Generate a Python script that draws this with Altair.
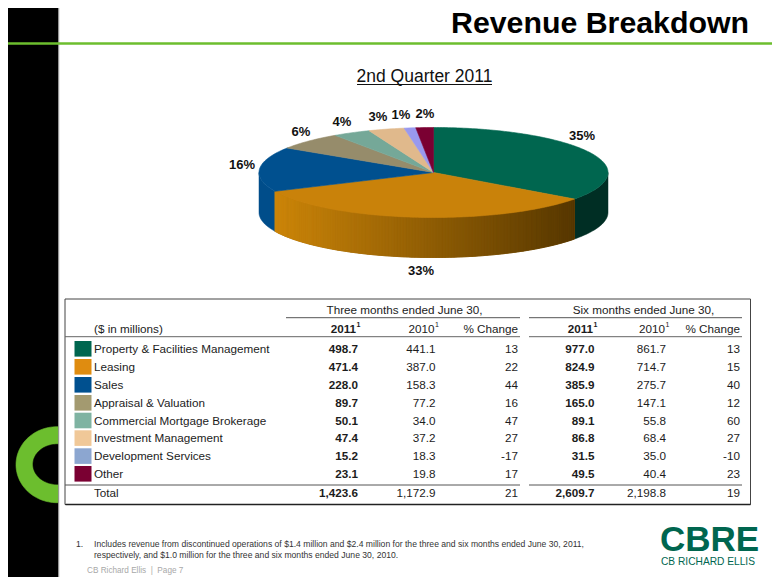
import math
import altair as alt
import pandas as pd

# ---------- values ----------
categories = ["Property & Facilities Management", "Leasing", "Sales", "Appraisal & Valuation",
              "Commercial Mortgage Brokerage", "Investment Management", "Development Services", "Other"]
q_2011 = [498.7, 471.4, 228.0, 89.7, 50.1, 47.4, 15.2, 23.1]
q_2010 = [441.1, 387.0, 158.3, 77.2, 34.0, 37.2, 18.3, 19.8]
q_chg = [13, 22, 44, 16, 47, 27, -17, 17]
h_2011 = [977.0, 824.9, 385.9, 165.0, 89.1, 86.8, 31.5, 49.5]
h_2010 = [861.7, 714.7, 275.7, 147.1, 55.8, 68.4, 35.0, 40.4]
h_chg = [13, 15, 40, 12, 60, 27, -10, 23]
total_row = ["1,423.6", "1,172.9", "21", "2,609.7", "2,198.8", "19"]
pie_labels = ["35%", "33%", "16%", "6%", "4%", "3%", "1%", "2%"]
pie_colors = ["#00664F", "#C9820A", "#00508F", "#968C6B", "#75A898", "#E0B98C", "#9999EE", "#7A0032"]
swatch_colors = ["#00664F", "#DF8C10", "#00508F", "#A39A70", "#7FB3A2", "#F0C898", "#8CA6D0", "#7A0032"]

# ---------- layout (reference pixel space) ----------
FONT = "Liberation Sans"
TXT = "#1c1c1c"
GREEN = "#6CBE2E"
CX, CY, RX, RY, DEPTH = 433.5, 172.5, 174.5, 45.0, 40.0
col_x = [358, 435.5, 518, 594.5, 666, 740]
row_y = [349, 367, 385, 403, 420.7, 438.3, 456.3, 474]
pie_label_xy = [(582, 136), (421, 271), (242, 165), (301, 132), (342, 122), (378, 117), (401, 115), (425, 114)]

RIGHT, BOTTOM = 772, 577
xs = alt.Scale(domain=[8, RIGHT], range=[0, RIGHT - 8], nice=False, zero=False)
ys = alt.Scale(domain=[8, BOTTOM], range=[0, BOTTOM - 8], nice=False, zero=False)
X = alt.X("x:Q", scale=xs, axis=None)
Y = alt.Y("y:Q", scale=ys, axis=None)


def text(rows, **kw):
    df = pd.DataFrame(rows, columns=["x", "y", "t"])
    opts = dict(font=FONT, baseline="middle", align="left", color=TXT)
    opts.update(kw)
    return alt.Chart(df).mark_text(**opts).encode(x=X, y=Y, text="t:N")


def rules(rows, color="#555555", width=1.0):
    df = pd.DataFrame(rows, columns=["x", "x2", "y", "y2"])
    return alt.Chart(df).mark_rule(color=color, strokeWidth=width).encode(x=X, x2="x2:Q", y=Y, y2="y2:Q")


def rect(rows, **kw):
    df = pd.DataFrame(rows, columns=["x", "x2", "y", "y2"])
    return alt.Chart(df).mark_rect(**kw).encode(x=X, x2="x2:Q", y=Y, y2="y2:Q")


def polygons(polys, stroke_width=0.6):
    rows = []
    for pid, (color, pts) in enumerate(polys):
        for i, (px, py) in enumerate(pts):
            rows.append(dict(pid=pid, i=i, x=px, y=py, c=color))
    return alt.Chart(pd.DataFrame(rows)).mark_line(strokeWidth=stroke_width, interpolate="linear").encode(
        x=X, y=Y, order="i:Q", detail="pid:N",
        fill=alt.Fill("c:N", scale=None), color=alt.Color("c:N", scale=None))


def rim(t, dy=0.0):
    return CX + RX * math.sin(t), CY - RY * math.cos(t) + dy


def mix(a, b, f):
    ca = [int(a[i:i + 2], 16) for i in (1, 3, 5)]
    cb = [int(b[i:i + 2], 16) for i in (1, 3, 5)]
    return "#" + "".join(f"{round(p + (q - p) * f):02x}" for p, q in zip(ca, cb))


total = sum(q_2011)
edges = [0.0]
for v in q_2011:
    edges.append(edges[-1] + v / total * 2 * math.pi)

# pie walls: only the front half (90..270 degrees clockwise from the top) is visible
wall_base, wall_polys = [], []
shades = [("#002E24", "#002E24"), ("#CC8509", "#563700"), ("#00508F", "#004A85")]
for k, (c_left, c_right) in enumerate(shades):
    a0 = max(edges[k], math.pi / 2)
    a1 = min(edges[k + 1], 3 * math.pi / 2)
    n = max(2, int((a1 - a0) / math.radians(1.0)))
    steps = [a0 + (a1 - a0) * j / n for j in range(n + 1)]
    wall_base.append((mix(c_left, c_right, 0.5),
                      [rim(t) for t in steps] + [rim(t, DEPTH) for t in reversed(steps)] + [rim(steps[0])]))
    if k != 1:
        continue
    for t0, t1 in zip(steps, steps[1:]):
        f = max(0.0, min(1.0, (rim(t1)[0] - 275) / (574 - 275)))
        wall_polys.append((mix(c_left, c_right, f),
                           [rim(t0), rim(t1), rim(t1, DEPTH), rim(t0, DEPTH), rim(t0)]))

# pie top
top_polys = []
for k, color in enumerate(pie_colors):
    a0, a1 = edges[k], edges[k + 1]
    n = max(3, int((a1 - a0) / math.radians(1.0)))
    pts = [(CX, CY)] + [rim(a0 + (a1 - a0) * j / n) for j in range(n + 1)] + [(CX, CY)]
    top_polys.append((color, pts))


def ellipse(cx, cy, rx, ry):
    return [(cx + rx * math.cos(math.radians(d)), cy + ry * math.sin(math.radians(d))) for d in range(0, 361, 3)]


layers = []
# left band + green C, clipped by the white page area
layers.append(rect([(8, 58.5, 8, BOTTOM)], color="#000000"))
layers.append(polygons([(GREEN, ellipse(57, 464.7, 41, 38)), ("#000000", ellipse(57, 464.3, 24, 20))]))
layers.append(rect([(58.5, RIGHT, 8, BOTTOM)], color="#FFFFFF"))
layers.append(rect([(58.2, 59.2, 8, BOTTOM)], color="#8a8a8a"))
layers.append(rect([(8, RIGHT, 42.3, 44.8)], color=GREEN))

layers.append(alt.Chart(pd.DataFrame([dict(x=451, y=33, t="Revenue Breakdown")])).mark_text(
    font=FONT, fontSize=30.3, fontWeight="bold", color="#000000", align="left", baseline="alphabetic"
).encode(x=X, y=Y, text="t:N"))
layers.append(text([(424.5, 77, "2nd Quarter 2011")], fontSize=17.5, align="center", color="#111111"))
layers.append(rules([(357, 492, 84.5, 84.5)], color="#111111", width=1))

# pie
layers.append(polygons(wall_base, 0.5))
layers.append(polygons(wall_polys, 0.8))
layers.append(polygons(top_polys))
layers.append(text([(p[0], p[1], s) for p, s in zip(pie_label_xy, pie_labels)],
                   fontSize=13, fontWeight="bold", align="center", color="#111111"))

# table frame
layers.append(rect([(65, 750.5, 299, 504.5)], fill="#FFFFFF", stroke="#444444", strokeWidth=1))
layers.append(rules([(65.5, 750.5, 504.5, 504.5)], color="#222222", width=1.5))
layers.append(rules([(286, 520, 317.7, 317.7), (529, 742, 317.7, 317.7)], color="#555555", width=1))
layers.append(rules([(65, 520, 336.7, 336.7), (529, 742, 336.7, 336.7)], color="#666666", width=1))
layers.append(rules([(65, 520, 485, 485), (529, 742, 485, 485)], color="#555555", width=1))

sw = pd.DataFrame([dict(x=74.5, x2=91.5, y=y - 8, y2=y + 7.6, c=c) for y, c in zip(row_y, swatch_colors)])
layers.append(alt.Chart(sw).mark_rect().encode(x=X, x2="x2:Q", y=Y, y2="y2:Q", color=alt.Color("c:N", scale=None)))

layers.append(text([(404.5, 310, "Three months ended June 30,"), (643.5, 310, "Six months ended June 30,")],
                   fontSize=11.7, align="center"))
layers.append(text([(94, 328.7, "($ in millions)")], fontSize=11.7))
layers.append(text([(356, 328.7, "2011"), (593, 328.7, "2011")], fontSize=11.7, fontWeight="bold", align="right"))
layers.append(text([(434.5, 328.7, "2010"), (665, 328.7, "2010")], fontSize=11.7, align="right"))
layers.append(text([(col_x[2], 328.7, "% Change"), (col_x[5], 328.7, "% Change")], fontSize=11.7, align="right"))
layers.append(text([(356.5, 324.5, "1"), (593.5, 324.5, "1")], fontSize=7, fontWeight="bold"))
layers.append(text([(435, 324.5, "1"), (665.5, 324.5, "1")], fontSize=7))

layers.append(text([(94, y, c) for y, c in zip(row_y, categories)] + [(94, 493.3, "Total")], fontSize=11.7))
bold_rows, plain_rows = [], []
for y, a, b, c, d, e, f in zip(row_y, q_2011, q_2010, q_chg, h_2011, h_2010, h_chg):
    bold_rows += [(col_x[0], y, f"{a:.1f}"), (col_x[3], y, f"{d:.1f}")]
    plain_rows += [(col_x[1], y, f"{b:.1f}"), (col_x[2], y, str(c)), (col_x[4], y, f"{e:.1f}"), (col_x[5], y, str(f))]
bold_rows += [(col_x[0], 493.3, total_row[0]), (col_x[3], 493.3, total_row[3])]
plain_rows += [(col_x[1], 493.3, total_row[1]), (col_x[2], 493.3, total_row[2]),
               (col_x[4], 493.3, total_row[4]), (col_x[5], 493.3, total_row[5])]
layers.append(text(bold_rows, fontSize=11.7, fontWeight="bold", align="right"))
layers.append(text(plain_rows, fontSize=11.7, align="right"))

# footnote and footer
layers.append(text([(76, 544, "1."),
                    (94, 544, "Includes revenue from discontinued operations of $1.4 million and $2.4 million for the three and six months ended June 30, 2011,"),
                    (94, 555, "respectively, and $1.0 million for the three and six months ended June 30, 2010.")],
                   fontSize=8.6, color="#333333"))
layers.append(text([(87, 571, "CB Richard Ellis\u00a0 |\u00a0 Page 7")], fontSize=8.2, color="#a8a8a8"))

# logo wordmark
layers.append(text([(660, 540, "CBRE")], fontSize=35, fontWeight="bold", color="#00664F"))
layers.append(text([(661, 561.5, "CB RICHARD ELLIS")], fontSize=10.2, color="#00664F"))

chart = alt.layer(*layers).properties(
    width=RIGHT - 8, height=BOTTOM - 8, padding=0, autosize=alt.AutoSizeParams(type="none")
).configure_view(stroke=None)

chart.save("out.html", embed_options={"renderer": "svg", "actions": False})
